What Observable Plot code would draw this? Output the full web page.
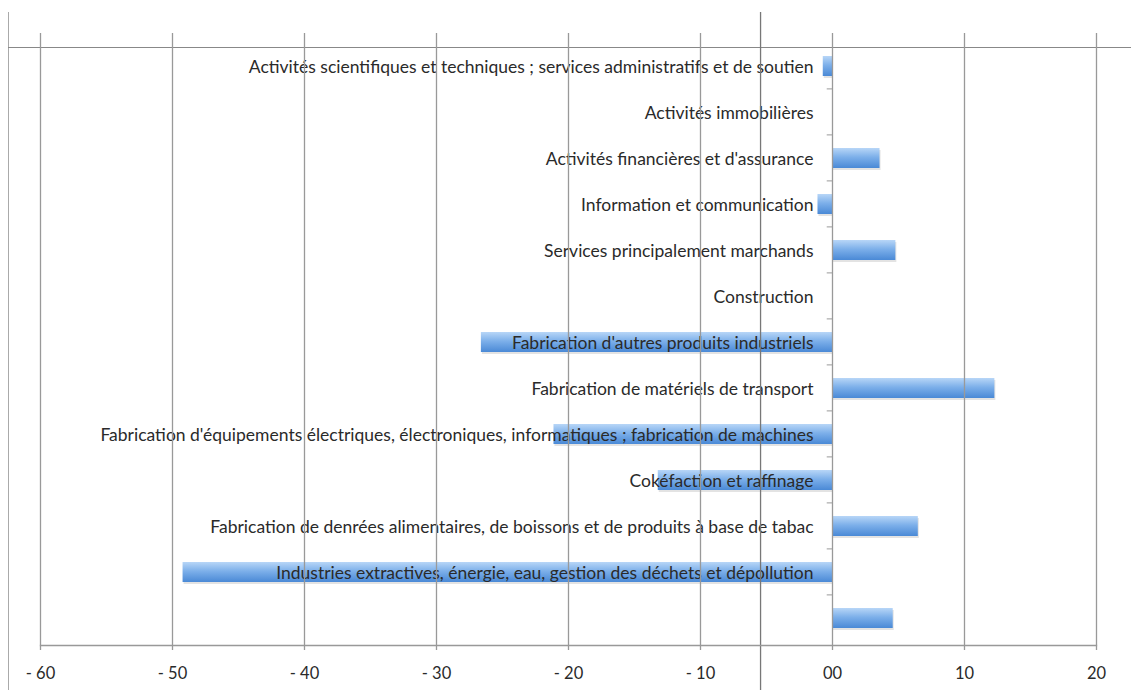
<!DOCTYPE html>
<html><head><meta charset="utf-8">
<script src="https://cdn.jsdelivr.net/npm/d3@7"></script>
<script src="https://cdn.jsdelivr.net/npm/@observablehq/plot@0.6"></script>
<style>
body{margin:0;background:#fff;}
svg{display:block;}
</style></head>
<body><div id="chart"></div>
<script>
const categories = [
  "Activités scientifiques et techniques ; services administratifs et de soutien",
  "Activités immobilières",
  "Activités financières et d'assurance",
  "Information et communication",
  "Services principalement marchands",
  "Construction",
  "Fabrication d'autres produits industriels",
  "Fabrication de matériels de transport",
  "Fabrication d'équipements électriques, électroniques, informatiques ; fabrication de machines",
  "Cokéfaction et raffinage",
  "Fabrication de denrées alimentaires, de boissons et de produits à base de tabac",
  "Industries extractives, énergie, eau, gestion des déchets et dépollution",
  ""
];
const values = [-0.7, 0, 3.6, -1.1, 4.8, 0, -26.6, 12.3, -21.1, -13.2, 6.5, -49.2, 4.6];
const xTicks = [-60, -50, -40, -30, -20, -10, 0, 10, 20];
const cursorX = [-5.45];

const keys = categories.map((c, i) => i);
const data = keys.map(i => ({key: i, label: categories[i], value: values[i]}));
const fmt = d => d < 0 ? "- " + (-d) : d === 0 ? "00" : String(d);

const chart = Plot.plot({
  width: 1131, height: 690,
  marginLeft: 40, marginRight: 35, marginTop: 37, marginBottom: 45,
  style: {fontFamily: "Lato, sans-serif", fontSize: "16px", color: "#333", background: "#fff"},
  x: {type: "linear", domain: [-60, 20], label: null},
  y: {type: "band", domain: keys, paddingInner: 0.57, paddingOuter: 0.285, axis: null},
  marks: [
    Plot.frame({anchor: "left", stroke: "#aaa", insetLeft: -32, insetTop: -25, insetBottom: -45}),
    Plot.frame({anchor: "top", stroke: "#888", insetTop: 10, insetLeft: -32, insetRight: -35}),
    Plot.rectX(data, {y: "key", x: "value", fill: "#999", fillOpacity: 0.28, dy: 3, dx: 1}),
    Plot.rectX(data, {y: "key", x: "value", fill: "url(#barGrad)", dy: 1}),
    Plot.text(data, {y: "key", x: 0, text: "label", textAnchor: "end", dx: -19, dy: 2, fill: "#2a2a2a", fontSize: 17.5}),
    Plot.ruleX(xTicks, {x: d => d, stroke: "#999", strokeWidth: 1.3, insetTop: -4, insetBottom: -5}),
    Plot.ruleX(cursorX, {x: d => d, stroke: "#777", strokeWidth: 1.3, insetTop: -25, insetBottom: -45}),
    Plot.frame({anchor: "bottom", stroke: "#999", strokeWidth: 1.3}),
    Plot.ruleY(keys.slice(0, 12), {y: d => d, x1: -0.4, x2: 0, dy: 23.4, stroke: "#999"}),
    Plot.axisX({ticks: xTicks, tickFormat: fmt, tickSize: 0, tickPadding: 22, fontSize: 16.5, fill: "#2a2a2a", anchor: "bottom", label: null})
  ]
});
document.getElementById("chart").appendChild(chart);

const svg = d3.select(chart);
const defs = svg.insert("defs", ":first-child");
const g = defs.append("linearGradient").attr("id", "barGrad").attr("x1", 0).attr("y1", 0).attr("x2", 0).attr("y2", 1);
g.append("stop").attr("offset", "0%").attr("stop-color", "#b8d6f7");
g.append("stop").attr("offset", "45%").attr("stop-color", "#7db0ea");
g.append("stop").attr("offset", "100%").attr("stop-color", "#4a89d6");
</script>
</body></html>
